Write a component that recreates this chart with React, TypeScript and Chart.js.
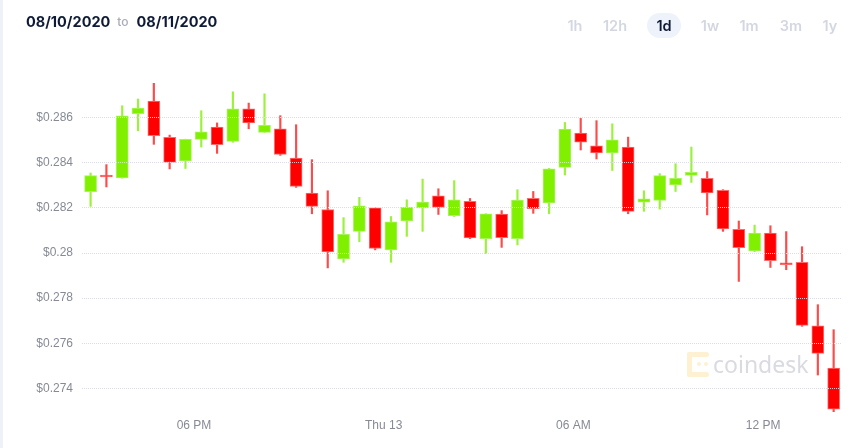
import React, { useEffect, useRef } from "react";
import { Chart, registerables } from "chart.js";

Chart.register(...registerables);

// ---- data (30-minute candles, price in USD) ----
const OPEN = [
  0.28272, 0.28343, 0.28333, 0.28618, 0.28674, 0.28513, 0.28408, 0.28504, 0.28559, 0.28495, 0.28639, 0.28535,
  0.28551, 0.28421, 0.28266, 0.28193, 0.27974, 0.28096, 0.282, 0.28014, 0.28142, 0.282, 0.28254, 0.28166,
  0.28229, 0.28064, 0.28173, 0.28064, 0.28242, 0.28222, 0.2838, 0.28532, 0.28475, 0.28444, 0.2847, 0.28226,
  0.28233, 0.28302, 0.28344, 0.28331, 0.28278, 0.28105, 0.28009, 0.28089, 0.27951, 0.27959, 0.27677, 0.2749,
];
const HIGH = [
  0.28355, 0.28392, 0.28653, 0.28683, 0.28754, 0.28523, 0.28505, 0.28631, 0.28577, 0.28715, 0.28665, 0.28706,
  0.28609, 0.28569, 0.28414, 0.28276, 0.28157, 0.28247, 0.282, 0.28162, 0.28236, 0.28328, 0.28285, 0.28321,
  0.28242, 0.28174, 0.28188, 0.28281, 0.28273, 0.28375, 0.28579, 0.28597, 0.28587, 0.28573, 0.28514, 0.28276,
  0.28352, 0.28396, 0.2847, 0.28361, 0.28281, 0.28142, 0.28124, 0.28121, 0.28095, 0.28028, 0.27771, 0.2766,
];
const LOW = [
  0.28207, 0.28293, 0.28332, 0.28542, 0.28482, 0.28373, 0.28375, 0.2847, 0.28442, 0.28491, 0.28551, 0.28535,
  0.28433, 0.28291, 0.28174, 0.27934, 0.27959, 0.2805, 0.28014, 0.27959, 0.28074, 0.28096, 0.28171, 0.28162,
  0.28064, 0.27998, 0.28025, 0.28036, 0.28176, 0.28174, 0.28346, 0.28457, 0.28417, 0.28366, 0.28174, 0.28185,
  0.28195, 0.28273, 0.28313, 0.28169, 0.28096, 0.27874, 0.28006, 0.27936, 0.27926, 0.27675, 0.27459, 0.27295,
];
const CLOSE = [
  0.28343, 0.28337, 0.28608, 0.28643, 0.2852, 0.28402, 0.28504, 0.28538, 0.2848, 0.28639, 0.28577, 0.28566,
  0.28437, 0.28295, 0.28207, 0.28005, 0.28083, 0.28209, 0.2802, 0.28138, 0.28204, 0.28226, 0.28202, 0.28236,
  0.28067, 0.28174, 0.28068, 0.28235, 0.28197, 0.28373, 0.2855, 0.28492, 0.28444, 0.28502, 0.28185, 0.2824,
  0.28343, 0.28331, 0.28358, 0.28266, 0.28107, 0.28024, 0.28089, 0.27966, 0.27948, 0.27679, 0.27555, 0.27307,
];

// time of first candle, in hours since 00:00 Wed 12, and candle interval
const FIRST_CANDLE_HOUR = 14.73;
const CANDLE_STEP_HOURS = 0.5;
const X_RANGE_HOURS = [14.458, 38.494];

const X_TICK_HOURS = [18, 24, 30, 36];
const X_TICK_LABELS = ["06 PM", "Thu 13", "06 AM", "12 PM"];
const Y_TICKS = [0.274, 0.276, 0.278, 0.28, 0.282, 0.284, 0.286];

const DATE_FROM = "08/10/2020";
const DATE_TO = "08/11/2020";
const RANGE_BUTTONS = ["1h", "12h", "1d", "1w", "1m", "3m", "1y"];
const ACTIVE_RANGE = "1d";

const GREEN = "#80f000";
const GREEN_EDGE = "#a6f458";
const GREEN_WICK = "#9af23a";
const RED = "#ff0000";
const RED_EDGE = "#ff6a6a";
const RED_WICK = "#ff4a4a";

const BUTTON_CENTERS = [575, 615, 664, 710, 749, 791, 830];

export default function App() {
  const canvasRef = useRef<HTMLCanvasElement | null>(null);

  useEffect(() => {
    document.body.style.margin = "0";
    const canvas = canvasRef.current;
    if (!canvas) return;
    const xs = OPEN.map((_, i) => FIRST_CANDLE_HOUR + i * CANDLE_STEP_HOURS);
    const up = OPEN.map((o, i) => CLOSE[i] >= o);
    const yMin = Math.min(...LOW);
    const yMax = Math.max(...HIGH);

    const chart = new Chart(canvas, {
      type: "bar",
      data: {
        datasets: [
          {
            label: "body",
            data: xs.map((x, i) => ({ x, y: [OPEN[i], CLOSE[i]] })) as any,
            backgroundColor: up.map((u) => (u ? GREEN : RED)),
            borderColor: up.map((u) => (u ? GREEN_EDGE : RED_EDGE)),
            borderWidth: 1,
            borderSkipped: false,
            barThickness: 12,
            minBarLength: 2,
            grouped: false,
            order: 0,
          } as any,
          {
            label: "wick",
            data: xs.map((x, i) => ({ x, y: [LOW[i], HIGH[i]] })) as any,
            backgroundColor: up.map((u) => (u ? GREEN_WICK : RED_WICK)),
            borderWidth: 0,
            barThickness: 1.5,
            grouped: false,
            order: 1,
          } as any,
        ],
      },
      options: {
        animation: false,
        responsive: false,
        maintainAspectRatio: false,
        devicePixelRatio: 1,
        layout: { padding: { left: 0, right: 25, top: 83, bottom: 0 } },
        plugins: { legend: { display: false }, tooltip: { enabled: false } },
        scales: {
          x: {
            type: "linear",
            min: X_RANGE_HOURS[0],
            max: X_RANGE_HOURS[1],
            offset: false,
            grid: { display: false, drawTicks: false },
            border: { display: false },
            afterBuildTicks: (s: any) => {
              s.ticks = X_TICK_HOURS.map((v) => ({ value: v }));
            },
            afterFit: (s: any) => {
              s.height = 36;
            },
            ticks: {
              autoSkip: false,
              maxRotation: 0,
              padding: 6,
              color: "#868a94",
              font: { family: '"Liberation Sans", Arial, sans-serif', size: 12 },
              callback: (v: any) => {
                const k = X_TICK_HOURS.indexOf(Number(v));
                return k >= 0 ? X_TICK_LABELS[k] : "";
              },
            },
          },
          y: {
            min: yMin,
            max: yMax,
            grid: { color: "#dcdce9", drawTicks: false, z: 1, lineWidth: 1 } as any,
            border: { display: false, dash: [1, 1] },
            afterBuildTicks: (s: any) => {
              s.ticks = Y_TICKS.map((v) => ({ value: v }));
            },
            afterFit: (s: any) => {
              s.width = 82;
            },
            ticks: {
              padding: 9,
              color: "#868a94",
              font: { family: '"Liberation Sans", Arial, sans-serif', size: 12 },
              callback: (v: any) => "$" + parseFloat(Number(v).toFixed(3)).toString(),
            },
          },
        },
      },
    });
    return () => chart.destroy();
  }, []);

  const logoColor = "#fef1d2";

  return (
    <div
      style={{
        position: "fixed",
        left: 0,
        top: 0,
        width: 867,
        height: 448,
        background: "#ffffff",
        overflow: "hidden",
        fontFamily: "Inter, 'Noto Sans', sans-serif",
      }}
    >
      <div style={{ position: "absolute", left: 0, top: 0, width: 3, height: 448, background: "#eef1f8" }} />
      <canvas ref={canvasRef} width={867} height={448} style={{ position: "absolute", left: 0, top: 0, width: 867, height: 448 }} />

      {/* header: date range */}
      <div
        style={{
          position: "absolute",
          left: 26,
          top: 10,
          height: 24,
          lineHeight: "24px",
          display: "flex",
          alignItems: "center",
          whiteSpace: "nowrap",
        }}
      >
        <span style={{ fontSize: 14.5, fontWeight: 700, color: "#0e1a36" }}>{DATE_FROM}</span>
        <span style={{ fontSize: 12, fontWeight: 500, color: "#a9abb8", margin: "0 8px 0 7px" }}>to</span>
        <span style={{ fontSize: 14.5, fontWeight: 700, color: "#0e1a36" }}>{DATE_TO}</span>
      </div>

      {/* header: range buttons */}
      {RANGE_BUTTONS.map((b, i) => {
        const active = b === ACTIVE_RANGE;
        return (
          <div
            key={b}
            style={{
              position: "absolute",
              left: BUTTON_CENTERS[i] - 17,
              top: 13,
              width: 34,
              height: 25,
              lineHeight: "25px",
              textAlign: "center",
              borderRadius: 12.5,
              background: active ? "#eef2fa" : "transparent",
              color: active ? "#0e1a36" : "#d3d7e1",
              fontSize: 14.5,
              fontWeight: 600,
            }}
          >
            {b}
          </div>
        );
      })}

      {/* watermark */}
      <div style={{ position: "absolute", left: 687, top: 352, width: 23, height: 25 }}>
        <div style={{ position: "absolute", left: 0, top: 0, width: 22, height: 5, borderRadius: 3, background: logoColor }} />
        <div style={{ position: "absolute", left: 0, top: 0, width: 5, height: 25, borderRadius: 3, background: logoColor }} />
        <div style={{ position: "absolute", left: 0, top: 20, width: 22, height: 5, borderRadius: 3, background: logoColor }} />
        <div style={{ position: "absolute", left: 10, top: 10, width: 4, height: 4, borderRadius: 2, background: logoColor }} />
        <div style={{ position: "absolute", left: 17, top: 10, width: 4, height: 4, borderRadius: 2, background: logoColor }} />
      </div>
      <div
        style={{
          position: "absolute",
          left: 713,
          top: 352,
          fontSize: 23,
          lineHeight: "24px",
          fontFamily: "'Noto Sans', sans-serif",
          color: "#d9dbe1",
          whiteSpace: "nowrap",
        }}
      >
        coindesk
      </div>
    </div>
  );
}
